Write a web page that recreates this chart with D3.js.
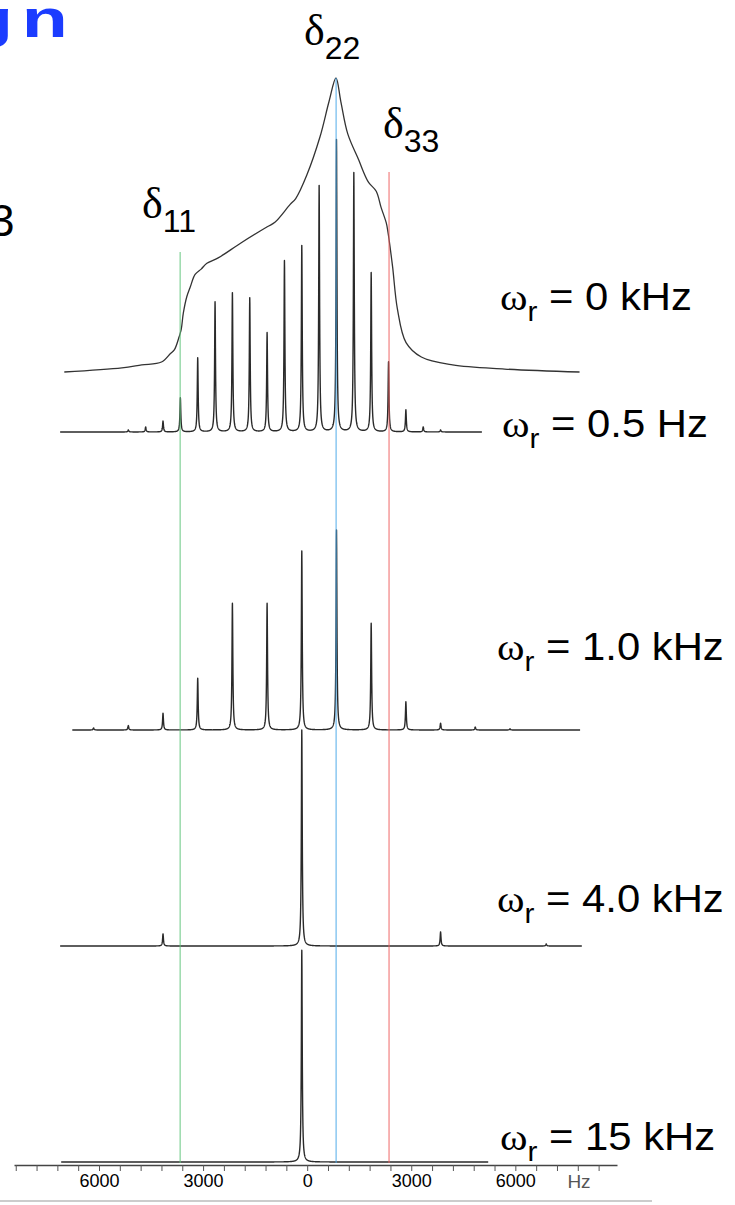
<!DOCTYPE html>
<html>
<head>
<meta charset="utf-8">
<script src="https://cdn.jsdelivr.net/npm/d3@7"></script>
<style>
  html, body { margin: 0; padding: 0; background: #fff; }
  svg { display: block; }
  text { font-family: "Liberation Sans", Arial, sans-serif; fill: #000; }
  .greek { font-family: "Liberation Serif", "Times New Roman", serif; }
</style>
</head>
<body>
<div id="chart"></div>
<script>
// principal values of the shift tensor (Hz), d11 d22 d33
const tensorHz = [3660, -835, -2360];
const tensorNames = ["11", "22", "33"];
const tensorColors = ["#61c57b", "#4aa8ea", "#ee6161"];

// static powder pattern (Hz, intensity)
const staticHz = [7000, 5340, 4770, 4200, 3940, 3830, 3690, 3630, 3570, 3470, 3370, 3230, 3055, 2890, 2565, 1910, 1150, 930, 490, 330, 10, -370, -630, -830, -970, -1170, -1490, -1600, -1770, -1990, -2130, -2280, -2330, -2460, -2600, -2850, -3290, -4190, -5690, -7850];
const staticInt = [0, 1.4, 2.4, 3.4, 6.3, 7.5, 12, 14.5, 20, 25.6, 28.9, 33.2, 35, 37, 38.8, 43.9, 49.4, 50.9, 57, 59, 67, 80, 92, 100, 92, 81, 72, 68.7, 64.5, 61.5, 56, 50.7, 47.5, 36, 21.5, 10, 5.1, 2.4, 1, 0];

// sideband spectra: peak positions (Hz) and heights
const sb05Hz = [5155, 4655, 4155, 3655, 3155, 2655, 2155, 1655, 1155, 655, 155, -345, -845, -1345, -1845, -2345, -2845, -3345, -3845];
const sb05Int = [0.7, 1.7, 3.7, 11.6, 25.2, 44.2, 47.3, 45.6, 33.7, 58.2, 63.3, 83.7, 99.3, 88.1, 54.1, 23.8, 7.5, 1.7, 0.7];

const sb1Hz = [6155, 5155, 4155, 3155, 2155, 1155, 155, -845, -1845, -2845, -3845, -4845, -5845];
const sb1Int = [0.7, 1.5, 5.7, 17.6, 43.1, 43.1, 60.9, 68, 36.3, 9.6, 2.3, 1, 0.4];

const sb4Hz = [4155, 155, -3845, -6890];
const sb4Int = [4.1, 73.5, 4.8, 0.7];

const sb15Hz = [155];
const sb15Int = [72];

const rateLabels = ["0 kHz", "0.5 Hz", "1.0 kHz", "4.0 kHz", "15 kHz"];
const tickLabels = [6000, 3000, 0, -3000, -6000];

const width = 735, height = 1205;
const svg = d3.select("#chart").append("svg")
  .attr("width", width).attr("height", height);

const x = d3.scaleLinear().domain([8450, -8930]).range([14, 617]);
const y = d3.scaleLinear().domain([0, 100]).range([0, 294]);

const panels = [
  { hz: sb05Hz, amp: sb05Int, base: 432, from: 7120, to: -5040 },
  { hz: sb1Hz, amp: sb1Int, base: 730, from: 6770, to: -7870 },
  { hz: sb4Hz, amp: sb4Int, base: 946, from: 7120, to: -7920 },
  { hz: sb15Hz, amp: sb15Int, base: 1162, from: 7090, to: -5220 }
];
const labelPos = [[500, 310], [502, 437], [497, 660], [497, 912], [500, 1150]];

// lorentzian line width (half width, Hz)
const hw = 15;
function spectrum(p) {
  let pts = d3.range(p.from, p.to, -4).concat(p.hz);
  pts.sort((a, b) => b - a);
  return pts.map(h => {
    let s = 0;
    p.hz.forEach((c, i) => { s += p.amp[i] * hw * hw / ((h - c) * (h - c) + hw * hw); });
    return [h, s];
  });
}

// static pattern
const staticLine = d3.line()
  .x(d => x(d[0]))
  .y(d => 372 - y(d[1]))
  .curve(d3.curveCatmullRom.alpha(0.5));
svg.append("path")
  .datum(staticHz.map((h, i) => [h, staticInt[i]]))
  .attr("d", staticLine)
  .attr("fill", "none")
  .attr("stroke", "#333")
  .attr("stroke-width", 1.3);

panels.forEach(p => {
  const line = d3.line().x(d => x(d[0])).y(d => p.base - y(d[1]));
  svg.append("path")
    .datum(spectrum(p))
    .attr("d", line)
    .attr("fill", "none")
    .attr("stroke", "#2a2a2a")
    .attr("stroke-width", 1.4)
    .attr("stroke-linejoin", "round");
});

// tensor component lines
const lineTops = [252, 78, 172];
svg.selectAll(".tensor").data(tensorHz).enter().append("line")
  .attr("class", "tensor")
  .attr("x1", d => x(d)).attr("x2", d => x(d))
  .attr("y1", (d, i) => lineTops[i]).attr("y2", 1163)
  .attr("stroke", (d, i) => tensorColors[i])
  .attr("stroke-opacity", 0.6)
  .attr("stroke-width", 1.6);

// axis
const ax = svg.append("g")
  .attr("transform", "translate(0,1165)")
  .call(d3.axisBottom(x)
    .tickValues(d3.range(-8400, 8401, 600))
    .tickSize(6).tickSizeOuter(0)
    .tickFormat(d => tickLabels.includes(d) ? Math.abs(d) : ""));
ax.select(".domain").attr("stroke", "#444").attr("stroke-width", 1.5);
ax.selectAll(".tick line").attr("stroke", "#555");
ax.selectAll(".tick text")
  .attr("fill", "#555")
  .style("font-size", "18px")
  .style("font-family", "'Liberation Sans', Arial, sans-serif");
svg.append("text")
  .attr("x", 579).attr("y", 1188)
  .attr("text-anchor", "middle")
  .style("fill", "#555")
  .style("font-size", "19px")
  .text("Hz");

svg.append("line")
  .attr("x1", 0).attr("x2", 652).attr("y1", 1201).attr("y2", 1201)
  .attr("stroke", "#ccc").attr("stroke-width", 2);

// speed labels
rateLabels.forEach((t, i) => {
  const g = svg.append("text")
    .attr("transform", `translate(${labelPos[i][0]},${labelPos[i][1]}) scale(1.1,1)`)
    .style("font-size", "38px");
  g.append("tspan").attr("class", "greek").text("ω");
  g.append("tspan").style("font-size", "27px").attr("dy", 11).text("r");
  g.append("tspan").attr("dy", -11).text(" = " + t);
});

// delta labels
const deltaPos = [[142, 218], [304, 45], [383, 138]];
tensorNames.forEach((n, i) => {
  const g = svg.append("text")
    .attr("x", deltaPos[i][0]).attr("y", deltaPos[i][1])
    .style("font-size", "44px");
  g.append("tspan").attr("class", "greek").text("δ");
  g.append("tspan").style("font-size", "32px").attr("dy", 14).text(n);
});

// cut-off slide title and label at the left edge
const title = svg.append("text")
  .attr("transform", "translate(0,37) scale(1.45,1)")
  .attr("x", -22.8)
  .style("font-size", "52px").style("font-weight", "bold")
  .style("fill", "#1b3cff");
title.append("tspan").text("g");
title.append("tspan").attr("dx", 6).text("n");
svg.append("text")
  .attr("x", -10).attr("y", 236)
  .style("font-size", "44px")
  .text("3");
</script>
</body>
</html>
